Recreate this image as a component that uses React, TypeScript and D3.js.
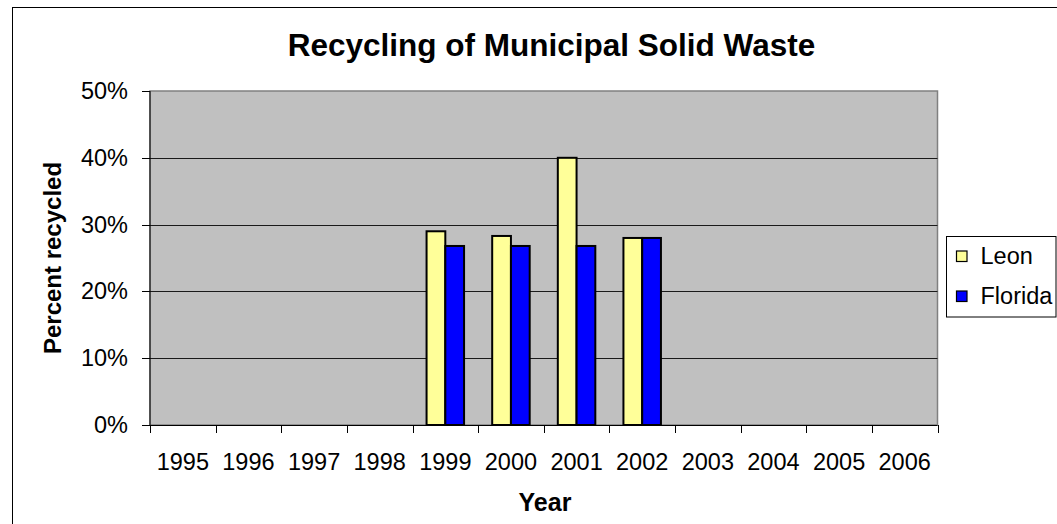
import React from "react";
import * as d3 from "d3";

const years = ["1995", "1996", "1997", "1998", "1999", "2000", "2001", "2002", "2003", "2004", "2005", "2006"];
const leon: (number | null)[] = [null, null, null, null, 29.0, 28.3, 40.0, 28.0, null, null, null, null];
const florida: (number | null)[] = [null, null, null, null, 26.8, 26.8, 26.8, 28.0, null, null, null, null];
const yTicks = [0, 10, 20, 30, 40, 50];
const seriesNames = ["Leon", "Florida"];
const seriesColors = ["#FFFF99", "#0000FF"];

const W = 1057;
const H = 524;
const plot = { left: 150, right: 937.5, top: 91, bottom: 425 };
const FONT = "'Liberation Sans', Arial, Helvetica, sans-serif";

export default function App() {
  const x = d3.scaleBand<string>().domain(years).range([plot.left, plot.right]).paddingInner(0).paddingOuter(0);
  const y = d3.scaleLinear().domain([0, 50]).range([plot.bottom, plot.top]);
  const bw = x.bandwidth();
  const barW = bw / 3.5;
  const off = (bw * 0.75) / 3.5;
  const series = [leon, florida];

  const boundaries = d3.range(years.length + 1).map((i) => plot.left + i * bw);

  return (
    <svg width={W} height={H} style={{ position: "absolute", left: 0, top: 0, background: "#fff" }} fontFamily={FONT}>
      <rect x={12.5} y={7.5} width={1200} height={700} fill="#fff" stroke="#000" strokeWidth={1} />
      <text x={551.5} y={56} textAnchor="middle" fontSize={31.5} fontWeight="bold" fill="#000">
        Recycling of Municipal Solid Waste
      </text>
      <rect x={plot.left} y={plot.top} width={plot.right - plot.left} height={plot.bottom - plot.top} fill="#C0C0C0" stroke="#808080" strokeWidth={1.5} />
      {yTicks.filter((t) => t > 0 && t < 50).map((t) => (
        <line key={t} x1={plot.left} x2={plot.right} y1={Math.round(y(t)) + 0.5} y2={Math.round(y(t)) + 0.5} stroke="#1a1a1a" strokeWidth={1} />
      ))}
      {series.map((vals, si) =>
        vals.map((v, i) =>
          v == null ? null : (
            <rect
              key={`${si}-${i}`}
              x={(x(years[i]) as number) + off + si * barW}
              y={y(v)}
              width={barW}
              height={y(0) - y(v)}
              fill={seriesColors[si]}
              stroke="#000"
              strokeWidth={2}
            />
          )
        )
      )}
      {/* axes */}
      <line x1={plot.left} x2={plot.left} y1={plot.top} y2={plot.bottom} stroke="#000" strokeWidth={1} />
      <line x1={plot.left} x2={plot.right} y1={plot.bottom + 0.5} y2={plot.bottom + 0.5} stroke="#000" strokeWidth={1} />
      {yTicks.map((t) => (
        <g key={t}>
          <line x1={142} x2={plot.left} y1={Math.round(y(t)) + 0.5} y2={Math.round(y(t)) + 0.5} stroke="#000" strokeWidth={1} />
          <text x={128} y={y(t) + 8} textAnchor="end" fontSize={23.5} fill="#000">
            {`${t}%`}
          </text>
        </g>
      ))}
      {boundaries.map((bx, i) => (
        <line key={i} x1={Math.round(bx) + 0.5} x2={Math.round(bx) + 0.5} y1={plot.bottom} y2={plot.bottom + 8} stroke="#000" strokeWidth={1} />
      ))}
      {years.map((yr) => (
        <text key={yr} x={(x(yr) as number) + bw / 2} y={470} textAnchor="middle" fontSize={23.5} fill="#000">
          {yr}
        </text>
      ))}
      <text x={545} y={511} textAnchor="middle" fontSize={25} fontWeight="bold" fill="#000">
        Year
      </text>
      <text transform={`translate(61,258) rotate(-90)`} textAnchor="middle" fontSize={24} fontWeight="bold" fill="#000">
        Percent recycled
      </text>
      {/* legend */}
      <rect x={946.5} y={236.5} width={109.5} height={80.5} fill="#fff" stroke="#000" strokeWidth={1} />
      {seriesNames.map((n, i) => (
        <g key={n}>
          <rect x={956.5} y={251} width={10.5} height={10.5} transform={`translate(0,${i * 40})`} fill={seriesColors[i]} stroke="#000" strokeWidth={1.2} />
          <text x={980.5} y={264 + i * 40} fontSize={23.5} fill="#000">
            {n}
          </text>
        </g>
      ))}
    </svg>
  );
}
